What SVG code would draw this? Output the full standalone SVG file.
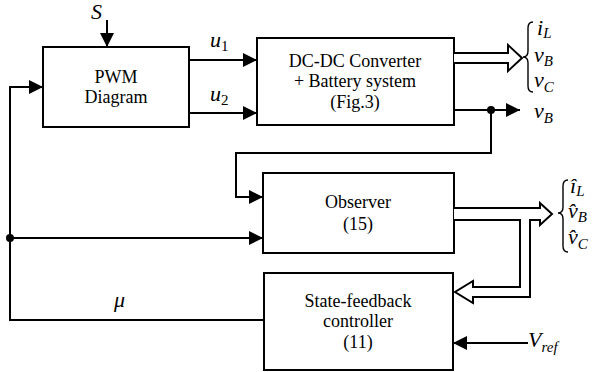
<svg xmlns="http://www.w3.org/2000/svg" width="592" height="372" viewBox="0 0 592 372">
  <style>
    .box { fill: #fff; stroke: #000; stroke-width: 2; }
    .lbl { font-family: "Liberation Serif", "Times New Roman", "DejaVu Serif", serif; font-size: 18px; fill: #000; text-anchor: middle; }
    .math { font-family: "Liberation Serif", "Times New Roman", "DejaVu Serif", serif; font-style: italic; font-size: 22px; fill: #000; }
    .sub { font-size: 15px; }
    .wire { fill: none; stroke: #000; stroke-width: 2; }
    .bus { fill: #fff; stroke: #000; stroke-width: 2; stroke-linejoin: miter; }
    .brace { fill: none; stroke: #000; stroke-width: 1.4; }
  </style>
  <defs>
    <marker id="ah" markerWidth="14" markerHeight="14" refX="14" refY="7" orient="auto" markerUnits="userSpaceOnUse">
      <path d="M0,0 L14,7 L0,14 z" fill="#000"/>
    </marker>
  </defs>

  <g id="pwm">
    <rect class="box" x="43" y="47" width="146" height="80"/>
    <text class="lbl" x="116" y="83">PWM</text>
    <text class="lbl" x="116" y="103">Diagram</text>
  </g>

  <g id="converter">
    <rect class="box" x="257" y="38" width="197" height="87"/>
    <text class="lbl" x="355" y="67">DC-DC Converter</text>
    <text class="lbl" x="355" y="87">+ Battery system</text>
    <text class="lbl" x="355" y="108">(Fig.3)</text>
  </g>

  <g id="observer">
    <rect class="box" x="263" y="173" width="191" height="80"/>
    <text class="lbl" x="358" y="208">Observer</text>
    <text class="lbl" x="358" y="230">(15)</text>
  </g>

  <g id="controller">
    <rect class="box" x="264" y="273" width="189" height="97"/>
    <text class="lbl" x="358" y="307">State-feedback</text>
    <text class="lbl" x="358" y="327">controller</text>
    <text class="lbl" x="358" y="348">(11)</text>
  </g>

  <g id="connectors">
    <path class="wire" d="M107,20 L107,47" marker-end="url(#ah)"/>
    <path class="wire" d="M189,60 L257,60" marker-end="url(#ah)"/>
    <path class="wire" d="M189,113 L257,113" marker-end="url(#ah)"/>
    <path class="wire" d="M264,320 L10,320 L10,87 L43,87" marker-end="url(#ah)"/>
    <path class="wire" d="M10,238 L263,238" marker-end="url(#ah)"/>
    <circle cx="10" cy="238" r="4" fill="#000"/>
    <path class="wire" d="M454,110 L520,110" marker-end="url(#ah)"/>
    <path class="wire" d="M491,110 L491,153 L236,153 L236,197 L263,197" marker-end="url(#ah)"/>
    <circle cx="491" cy="110" r="4" fill="#000"/>
    <path class="wire" d="M528,343 L453,343" marker-end="url(#ah)"/>
    <!-- state vector buses -->
    <path class="bus" d="M454,53 L508,53 L508,45 L522,58 L508,71 L508,63 L454,63"/>
    <path class="bus" d="M454,208 L540,208 L540,203 L552,214 L540,225 L540,220 L530,220 L530,297 L473,297 L473,303 L455,292 L473,281 L473,287 L520,287 L520,220 L454,220"/>
  </g>

  <g id="labels">
    <text class="math" x="91" y="19">S</text>
    <text class="math" x="210" y="47">u<tspan class="sub" font-style="normal" dy="4">1</tspan></text>
    <text class="math" x="210" y="101">u<tspan class="sub" font-style="normal" dy="4">2</tspan></text>
    <text class="math" x="114" y="307">μ</text>
    <text class="math" x="528" y="347">V<tspan class="sub" dy="5">ref</tspan></text>

    <path class="brace" d="M533,22 Q528,22 528,28 L528,51 Q528,57 523,57 Q528,57 528,63 L528,86 Q528,92 533,92"/>
    <text class="math" x="537" y="35">i<tspan class="sub" dy="3">L</tspan></text>
    <text class="math" x="534" y="62">v<tspan class="sub" dy="4">B</tspan></text>
    <text class="math" x="534" y="87">v<tspan class="sub" dy="5">C</tspan></text>
    <text class="math" x="534" y="118">v<tspan class="sub" dy="5">B</tspan></text>

    <path class="brace" d="M568,180 Q563,180 563,186 L563,207 Q563,213 558,213 Q563,213 563,219 L563,246 Q563,252 568,252"/>
    <text class="math" x="570" y="193">î<tspan class="sub" dy="3">L</tspan></text>
    <text class="math" x="568" y="218">v̂<tspan class="sub" dy="4">B</tspan></text>
    <text class="math" x="568" y="244">v̂<tspan class="sub" dy="5">C</tspan></text>
  </g>
</svg>
